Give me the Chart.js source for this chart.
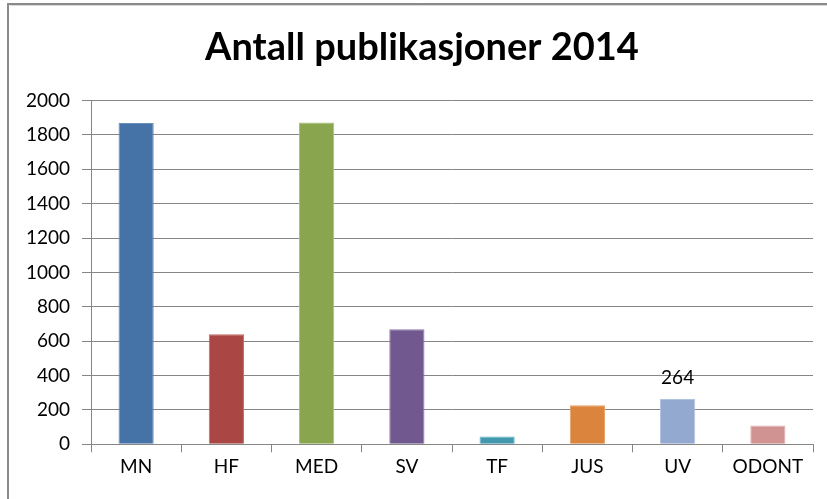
<!DOCTYPE html>
<html>
<head>
<meta charset="utf-8">
<script src="https://cdn.jsdelivr.net/npm/chart.js@4"></script>
<style>
  html, body { margin: 0; padding: 0; background: #fff; }
  #wrap { width: 827px; height: 499px; }
</style>
</head>
<body>
<div id="wrap"><canvas id="chart" width="827" height="499"></canvas></div>
<script>
const categories = ['MN', 'HF', 'MED', 'SV', 'TF', 'JUS', 'UV', 'ODONT'];
const publications = [1870, 640, 1872, 670, 46, 227, 264, 110];
const barColors = ['#4572A7', '#AA4643', '#89A54E', '#71588F', '#4198AF', '#DB843D', '#93A9CF', '#D19392'];
const edgeColors = ['#6a8fbf', '#c46a67', '#a6c072', '#8d78a8', '#66b3c7', '#eaa066', '#b1c3e2', '#e2b0af'];
const yTicks = [0, 200, 400, 600, 800, 1000, 1200, 1400, 1600, 1800, 2000];
const labelIndex = 6; // only UV has a value label

const font = 'Lato, "Liberation Sans", sans-serif';

// grey frame at top and left, like the cropped excel chart box
const framePlugin = {
  id: 'frame',
  afterLayout(chart) {
    // the left padding is only there to move the title; let y labels use it
    chart.scales.y.left = 10;
  },
  beforeDraw(chart) {
    const ctx = chart.ctx;
    ctx.save();
    ctx.strokeStyle = '#8a8a8a';
    ctx.lineWidth = 2;
    ctx.beginPath();
    ctx.moveTo(8, 499);
    ctx.lineTo(8, 4);
    ctx.lineTo(827, 4);
    ctx.stroke();
    ctx.strokeStyle = '#d8d8d8';
    ctx.lineWidth = 1;
    ctx.beginPath();
    ctx.moveTo(10, 5.5);
    ctx.lineTo(827, 5.5);
    ctx.stroke();
    ctx.restore();
  }
};

const valueLabel = {
  id: 'valueLabel',
  afterDatasetsDraw(chart) {
    const bar = chart.getDatasetMeta(0).data[labelIndex];
    const ctx = chart.ctx;
    ctx.save();
    ctx.font = '19px ' + font;
    ctx.fillStyle = '#000';
    ctx.textAlign = 'center';
    ctx.textBaseline = 'middle';
    ctx.fillText(String(publications[labelIndex]), bar.x, bar.y - 21);
    ctx.restore();
  }
};

new Chart(document.getElementById('chart'), {
  type: 'bar',
  data: {
    labels: categories,
    datasets: [{
      data: publications,
      backgroundColor: barColors,
      borderColor: edgeColors,
      borderWidth: 1,
      barPercentage: 0.39,
      categoryPercentage: 1
    }]
  },
  options: {
    responsive: false,
    animation: false,
    layout: { padding: { left: 31, right: 14, top: 0, bottom: 0 } },
    plugins: {
      legend: { display: false },
      tooltip: { enabled: false },
      title: {
        display: true,
        text: 'Antall publikasjoner 2014',
        color: '#000',
        font: { family: font, size: 38, weight: 'bold', lineHeight: 1.2 },
        padding: { top: 25, bottom: 30 }
      }
    },
    scales: {
      x: {
        grid: { drawOnChartArea: false, drawTicks: true, tickLength: 8, color: '#868686', offset: true },
        border: { color: '#868686', width: 1 },
        ticks: { color: '#000', font: { family: font, size: 19 }, padding: 3, maxRotation: 0 },
        afterFit(scale) { scale.height = 54.7; }
      },
      y: {
        min: 0,
        max: 2000,
        afterBuildTicks(scale) { scale.ticks = yTicks.map(v => ({ value: v })); },
        grid: { color: '#868686', tickLength: 9 },
        border: { color: '#868686', width: 1 },
        ticks: { color: '#000', font: { family: font, size: 19 }, padding: 12, callback: v => String(v) },
        afterFit(scale) { scale.width = 60; }
      }
    }
  },
  plugins: [framePlugin, valueLabel]
});
</script>
</body>
</html>
